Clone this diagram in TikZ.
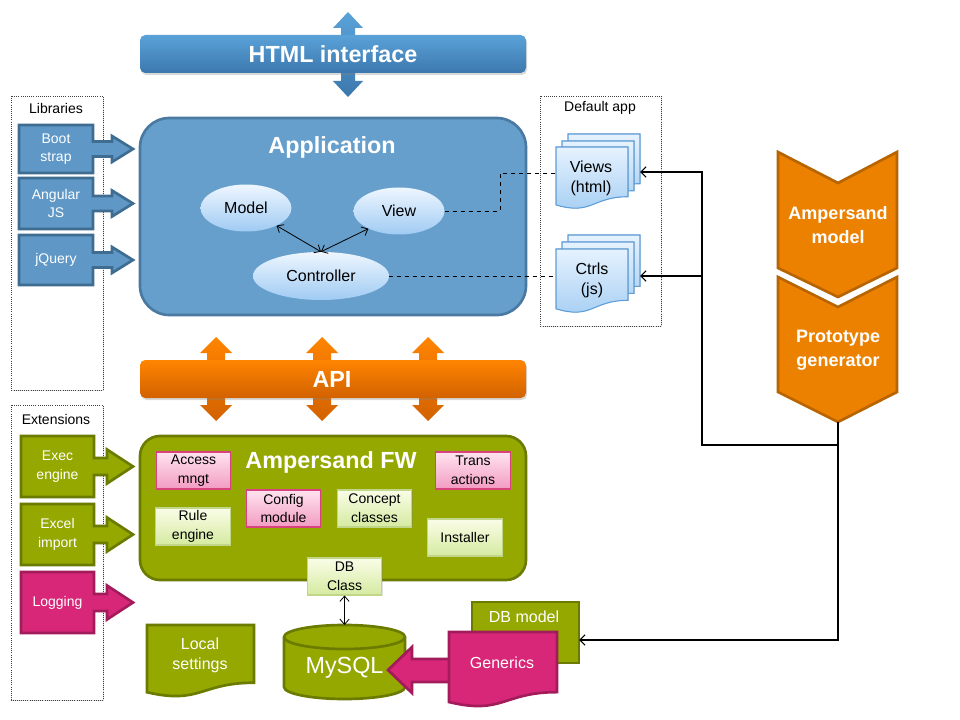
\documentclass[tikz,border=0pt]{standalone}
\usepackage{fontspec}
\setmainfont{Liberation Sans}
\usetikzlibrary{shapes.geometric,arrows.meta,shadows}
\definecolor{barblueT}{HTML}{5AA2D8}
\definecolor{barblueB}{HTML}{3C78AE}
\definecolor{appfill}{HTML}{669FCB}
\definecolor{appborder}{HTML}{4A79A2}
\definecolor{libfill}{HTML}{5F98C6}
\definecolor{libborder}{HTML}{3F6D92}
\definecolor{orT}{HTML}{FF8400}
\definecolor{orB}{HTML}{D26200}
\definecolor{chevfill}{HTML}{EC8100}
\definecolor{chevborder}{HTML}{B86400}
\definecolor{olive}{HTML}{94A800}
\definecolor{oliveborder}{HTML}{6B7B00}
\definecolor{pinkfill}{HTML}{D82778}
\definecolor{pinkborder}{HTML}{A21C5B}
\definecolor{ltpinkT}{HTML}{FFE4EF}
\definecolor{ltpinkB}{HTML}{F29BC2}
\definecolor{ltpinkborder}{HTML}{D8437E}
\definecolor{ltgreenT}{HTML}{FAFDE8}
\definecolor{ltgreenB}{HTML}{D5EAA0}
\definecolor{ltgreenborder}{HTML}{C2D68A}
\definecolor{ellT}{HTML}{EEF6FF}
\definecolor{ellB}{HTML}{A0CBF3}
\definecolor{docT}{HTML}{E6F2FF}
\definecolor{docB}{HTML}{A3CDF2}
\definecolor{docborder}{HTML}{5D9DD8}
\newcommand\docpath[4]{(#1,#2) -- ({#1+#3},#2) -- ({#1+#3},{#2+0.802*#4}) .. controls ({#1+0.5*#3},{#2+0.802*#4}) and ({#1+0.5*#3},{#2+1.107*#4}) .. (#1,{#2+0.934*#4}) -- cycle}
\newcommand\callpath[8]{(#1,#5) -- (#2,#5) -- (#2,{(#5+#6)/2-#7}) -- (#3,{(#5+#6)/2-#7}) -- (#3,{(#5+#6)/2-#8}) -- (#4,{(#5+#6)/2}) -- (#3,{(#5+#6)/2+#8}) -- (#3,{(#5+#6)/2+#7}) -- (#2,{(#5+#6)/2+#7}) -- (#2,#6) -- (#1,#6) -- cycle}
\newcommand\dblpath[6]{(#1,#2) -- ({#1+#5},{#2+#4}) -- ({#1+#6},{#2+#4}) -- ({#1+#6},{#3-#4}) -- ({#1+#5},{#3-#4}) -- (#1,#3) -- ({#1-#5},{#3-#4}) -- ({#1-#6},{#3-#4}) -- ({#1-#6},{#2+#4}) -- ({#1-#5},{#2+#4}) -- cycle}
\tikzset{
 smallf/.style={font=\fontsize{10.5}{14}\selectfont},
 medf/.style={font=\fontsize{12}{15}\selectfont},
 bigf/.style={font=\fontsize{17.5}{20}\selectfont\bfseries},
 chevf/.style={font=\fontsize{13.5}{18}\selectfont\bfseries},
 wlbl/.style={text=white, align=center, inner sep=0pt},
 blbl/.style={text=black, align=center, inner sep=0pt},
 dotbox/.style={draw=black!75, densely dotted, line width=0.6pt, fill=white, drop shadow={opacity=0.25,shadow xshift=0.8pt,shadow yshift=-0.8pt}},
 libbox/.style={fill=libfill, draw=libborder, line width=2pt},
 grnbox/.style={fill=olive, draw=oliveborder, line width=2pt},
 pnkbox/.style={fill=pinkfill, draw=pinkborder, line width=2pt},
 bluebar/.style={top color=barblueT, bottom color=barblueB, draw=none, rounded corners=4pt, drop shadow={opacity=0.3,shadow xshift=0.8pt,shadow yshift=-1.5pt}},
 orbar/.style={top color=orT, bottom color=orB, draw=none, rounded corners=4pt, drop shadow={opacity=0.3,shadow xshift=0.8pt,shadow yshift=-1.5pt}},
 bluearr/.style={top color=barblueT, bottom color=barblueB, draw=none},
 orarr/.style={top color=orT, bottom color=orB, draw=none},
 chev/.style={fill=chevfill, draw=chevborder, line width=2pt, line join=miter},
 ell/.style={ellipse, top color=ellT, bottom color=ellB, draw=none, minimum width=68.25pt, minimum height=35.25pt, inner sep=0pt, medf, text=black},
 pbox/.style={top color=ltpinkT, bottom color=ltpinkB, draw=ltpinkborder, line width=0.8pt, minimum width=56pt, minimum height=27.75pt, inner sep=0pt, smallf, align=center, drop shadow={opacity=0.25,shadow xshift=0.8pt,shadow yshift=-0.8pt}},
 gbox/.style={top color=ltgreenT, bottom color=ltgreenB, draw=ltgreenborder, line width=0.8pt, minimum width=56pt, minimum height=27.75pt, inner sep=0pt, smallf, align=center, drop shadow={opacity=0.25,shadow xshift=0.8pt,shadow yshift=-0.8pt}},
 docb/.style={top color=docT, bottom color=docB, draw=docborder, line width=0.8pt},
 conn/.style={draw=black, line width=0.8pt},
 barb/.style={-{Straight Barb[length=4pt,width=8pt]}},
 dbarb/.style={{Straight Barb[length=4pt,width=7pt]}-{Straight Barb[length=4pt,width=7pt]}},
}
\begin{document}
\begin{tikzpicture}[x=0.75pt,y=-0.75pt]
\useasboundingbox (0,0) rectangle (960,720);
\fill[white] (0,0) rectangle (960,720);

% ---------- dotted group boxes
\draw[dotbox] (11,96) rectangle (103,390);
\node[blbl,smallf] (libt) at (56,108) {Libraries};
\draw[dotbox] (540,96) rectangle (661,326);
\node[blbl,smallf] (dappt) at (600,108) {Default app};
\draw[dotbox] (11,405) rectangle (103,700);
\node[blbl,smallf] (extt) at (56,419) {Extensions};

% ---------- HTML interface
\shade[bluearr] \dblpath{348}{12}{97}{16}{15}{7};
\shade[bluebar] (140,35) rectangle (526,73);
\node[wlbl,bigf] (html) at (333,54) {HTML interface};

% ---------- Libraries
\filldraw[libbox] \callpath{19}{93}{112}{133}{125}{173}{7.5}{13};
\node[wlbl,smallf] (boot) at (56,149) {Boot\\strap};
\filldraw[libbox] \callpath{19}{93}{112}{133}{178}{229}{7.5}{13};
\node[wlbl,smallf] (ang) at (56,203.5) {Angular\\JS};
\filldraw[libbox] \callpath{19}{93}{112}{133}{235}{285}{7.5}{13};
\node[wlbl,smallf] (jq) at (56,260) {jQuery};

% ---------- Application
\filldraw[fill=appfill, draw=appborder, line width=2pt, rounded corners=22pt] (140,118) rectangle (526,315);
\node[wlbl,bigf] (app) at (332,147) {Application};
\node[ell] (model) at (246,208) {Model};
\node[ell] (view) at (399,211) {View};
\node[ell, minimum width=102pt, minimum height=36pt] (ctrl) at (321,276) {Controller};
\draw[conn,dbarb,line width=0.6pt] (model.-30) -- (ctrl.north);
\draw[conn,dbarb,line width=0.6pt] (view.210) -- (ctrl.north);

% ---------- Default app documents
\filldraw[docb] \docpath{568}{134}{72}{62};
\filldraw[docb] \docpath{562}{141}{72}{62};
\filldraw[docb] \docpath{556}{147}{72}{62};
\node[blbl,medf] (views) at (591,178) {Views\\(html)};
\filldraw[docb] \docpath{568}{235}{72}{64};
\filldraw[docb] \docpath{562}{242}{72}{64};
\filldraw[docb] \docpath{556}{249}{72}{64};
\node[blbl,medf] (ctrls) at (592,280) {Ctrls\\(js)};
\coordinate (viewsL) at (556,173);
\coordinate (ctrlsL) at (556,276);
\coordinate (viewsR) at (640,172);
\coordinate (ctrlsR) at (640,276);
\draw[conn,dashed,line width=0.6pt] (view.east) -- (500,211) |- (viewsL);
\draw[conn,dashed,line width=0.6pt] (ctrl.east) -- (ctrlsL);

% ---------- API
\shade[orarr] \dblpath{216}{337}{421}{16}{16}{9};
\shade[orarr] \dblpath{322}{337}{421}{16}{16}{9};
\shade[orarr] \dblpath{428}{337}{421}{16}{16}{9};
\shade[orbar] (140,360) rectangle (526,398);
\node[wlbl,bigf] (api) at (332,379) {API};

% ---------- Extensions
\filldraw[grnbox] \callpath{21}{94}{107}{133}{436}{497}{8.5}{17};
\node[wlbl,smallf] (exec) at (57.5,466.5) {Exec\\engine};
\filldraw[grnbox] \callpath{21}{94}{107}{133}{504}{565}{8.5}{17};
\node[wlbl,smallf] (excel) at (57.5,534.5) {Excel\\import};
\filldraw[pnkbox] \callpath{21}{94}{107}{133}{572}{633}{8.5}{17};
\node[wlbl,smallf] (log) at (57.5,602.5) {Logging};

% ---------- Ampersand FW
\filldraw[fill=olive, draw=oliveborder, line width=2pt, rounded corners=15pt] (140,436) rectangle (526,580);
\node[wlbl,bigf] (fw) at (331,462) {Ampersand FW};
\node[pbox] (access) at (193.5,470.5) {Access\\mngt};
\node[pbox] (trans) at (473,470.5) {Trans\\actions};
\node[pbox] (config) at (283.5,508.5) {Config\\module};
\node[gbox] (concept) at (374.5,508.5) {Concept\\classes};
\node[gbox] (rule) at (193,526.5) {Rule\\engine};
\node[gbox] (inst) at (465,537.5) {Installer};
\node[gbox] (dbclass) at (344.5,576.5) {DB\\Class};

% ---------- MySQL
\filldraw[fill=olive, draw=oliveborder, line width=2pt] (284,637) -- (284,687) arc[start angle=180,end angle=0,x radius=60.5,y radius=12] -- (405,637) arc[start angle=0,end angle=-180,x radius=60.5,y radius=12] -- cycle;
\draw[draw=oliveborder, line width=2pt] (284,637) arc[start angle=180,end angle=0,x radius=60.5,y radius=12];
\node[wlbl,font=\fontsize{17.5}{20}\selectfont] (mysql) at (344.5,668) {MySQL};
\coordinate (mysqlT) at (344.5,625);
\draw[conn,dbarb,line width=0.6pt] (dbclass.south) -- (mysqlT);

% ---------- Local settings
\filldraw[grnbox] \docpath{147}{625}{107}{72};
\node[wlbl,medf] (local) at (200,655) {Local\\settings};

% ---------- DB model, Generics
\filldraw[grnbox] (472,602) rectangle (579,663);
\node[wlbl,medf] (dbmodel) at (524,617) {DB model};
\coordinate (dbmR) at (579,640);
\filldraw[pnkbox] (449,659) -- (412,659) -- (412,647) -- (388,670) -- (412,693) -- (412,682) -- (449,682);
\filldraw[pnkbox] \docpath{449}{632}{108}{75};
\node[wlbl,medf] (gen) at (502,663) {Generics};

% ---------- Chevrons
\filldraw[chev] (778,152) -- (838,183) -- (897,152) -- (897,268) -- (838,297) -- (778,268) -- cycle;
\node[wlbl,chevf] (amodel) at (838,225) {Ampersand\\model};
\filldraw[chev] (778,277) -- (838,307) -- (897,277) -- (897,392) -- (838,422) -- (778,392) -- cycle;
\node[wlbl,chevf] (pgen) at (838,350) {Prototype\\generator};
\coordinate (pgB) at (838,422);
\coordinate (j1) at (702,276);

% ---------- connectors from generator
\draw[conn,barb] (pgB) |- (702,445) |- (viewsR);
\draw[conn,barb] (j1) -- (ctrlsR);
\draw[conn,barb] (pgB) |- (dbmR);
\end{tikzpicture}
\end{document}
